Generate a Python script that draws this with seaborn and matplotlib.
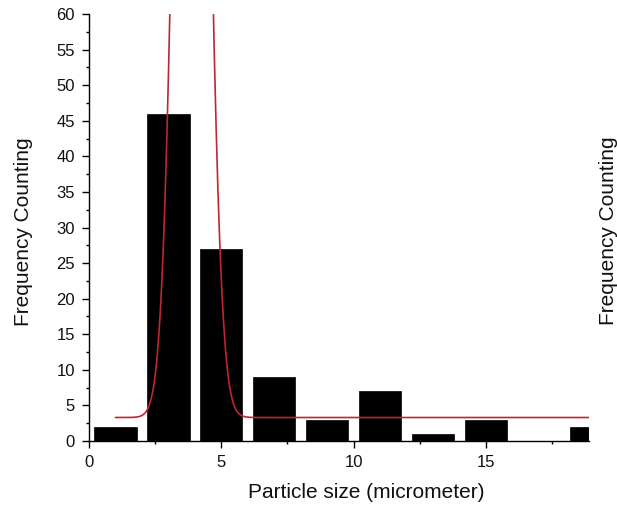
import numpy as np
import pandas as pd
import matplotlib
matplotlib.use("Agg")
import matplotlib.pyplot as plt
import seaborn as sns
from matplotlib.ticker import MultipleLocator

# Histogram of particle sizes: bin centres (micrometer) and counts
bin_centers = [1, 3, 5, 7, 9, 11, 13, 15, 17, 19]
counts = [2, 46, 27, 9, 3, 7, 1, 3, 0, 2]
bin_edges = [0, 2, 4, 6, 8, 10, 12, 14, 16, 18, 20]

# Gaussian fit parameters: baseline, centre, sigma, amplitude
fit_y0 = 3.3
fit_xc = 3.88
fit_sigma = 0.52
fit_amp = 199.0
fit_range = [1.0, 19.0]

sns.set_style("ticks")
plt.rcParams["font.family"] = ["Liberation Sans", "DejaVu Sans"]

fig = plt.figure(figsize=(6.17, 5.08), dpi=100)
ax = fig.add_axes([0.1442, 0.1319, 0.8104, 0.8405])

hist_df = pd.DataFrame({"size": bin_centers, "count": counts})
sns.histplot(data=hist_df, x="size", weights="count", bins=bin_edges,
             shrink=0.8, color="black", edgecolor="black", alpha=1.0,
             linewidth=0.5, ax=ax)

fit_x = np.linspace(fit_range[0], fit_range[1], 800)
fit_y = fit_y0 + fit_amp * np.exp(-(fit_x - fit_xc) ** 2 / (2 * fit_sigma ** 2))
fit_df = pd.DataFrame({"x": fit_x, "y": fit_y})
sns.lineplot(data=fit_df, x="x", y="y", color="#c0272d", linewidth=1.2, ax=ax)

ax.set_xlim(0, 18.9)
ax.set_ylim(0, 60)
ax.xaxis.set_major_locator(MultipleLocator(5))
ax.xaxis.set_minor_locator(MultipleLocator(2.5))
ax.yaxis.set_major_locator(MultipleLocator(5))
ax.yaxis.set_minor_locator(MultipleLocator(2.5))
ax.tick_params(which="major", direction="out", length=5, width=1.0,
               color="black", labelsize=12, pad=5, labelcolor="#111111")
ax.tick_params(which="minor", direction="out", length=2.5, width=1.0,
               color="black")

sns.despine(ax=ax)
for side in ("left", "bottom"):
    ax.spines[side].set_color("black")
    ax.spines[side].set_linewidth(1.0)

ax.set_xlabel("Particle size (micrometer)", fontsize=15, color="#111111")
ax.set_ylabel("Frequency Counting", fontsize=15, color="#111111")
ax.xaxis.set_label_coords(0.554, -0.098)
ax.yaxis.set_label_coords(-0.112, 0.49)

# Axis title of the neighbouring panel at the right margin
fig.text(0.986, 0.545, "Frequency Counting", rotation=90, fontsize=15,
         ha="center", va="center", color="#111111")

fig.savefig("out.png", dpi=100, facecolor="white")
